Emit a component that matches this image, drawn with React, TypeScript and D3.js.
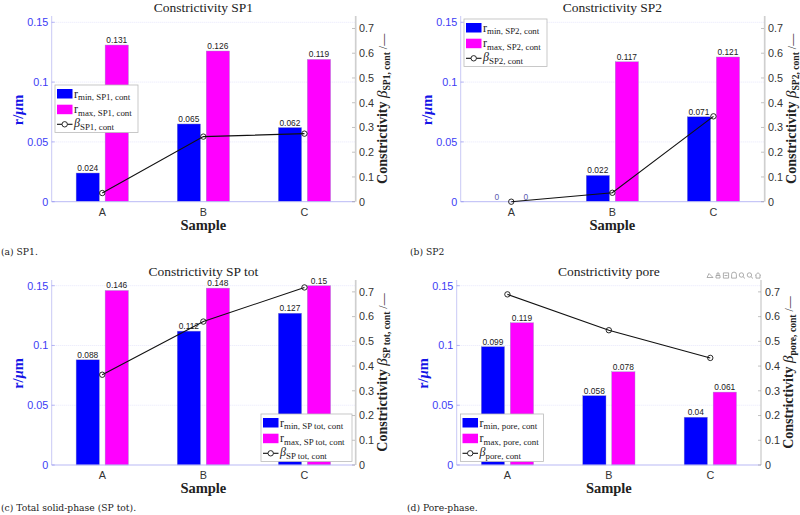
import React, { useEffect, useRef } from "react";
import * as d3 from "d3";

const samples = ["A", "B", "C"];
const rMinSP1 = [0.024, 0.065, 0.062];
const rMaxSP1 = [0.131, 0.126, 0.119];
const betaSP1 = [0.035, 0.263, 0.275];
const rMinSP2 = [0, 0.022, 0.071];
const rMaxSP2 = [0, 0.117, 0.121];
const betaSP2 = [0, 0.036, 0.345];
const rMinTot = [0.088, 0.112, 0.127];
const rMaxTot = [0.146, 0.148, 0.15];
const betaTot = [0.365, 0.58, 0.718];
const rMinPore = [0.099, 0.058, 0.04];
const rMaxPore = [0.119, 0.078, 0.061];
const betaPore = [0.69, 0.545, 0.433];
const leftTicks = [0, 0.05, 0.1, 0.15];
const rightTicks = [0, 0.1, 0.2, 0.3, 0.4, 0.5, 0.6, 0.7];

const SERIF = "'Liberation Serif', serif";
const SANS = "'Liberation Sans', Arial, sans-serif";
const BLUE = "#0000ff";
const MAGENTA = "#ff00ff";
const AXISBLUE = "#3b3bf5";

type Panel = {
  title: string; sub: string; caption: string; capX: number; capY: number;
  left: number; right: number; y0: number; y15: number; top: number; titleY: number;
  rMin: number[]; rMax: number[]; beta: number[];
  legX: number; legY: number; legW: number; rightLabelSub: string; heavy: boolean;
};

const panels: Panel[] = [
  { title: "Constrictivity SP1", sub: "SP1, cont", caption: "(a) SP1.", capX: 1, capY: 255,
    left: 51.7, right: 355, y0: 201.7, y15: 22.3, top: 16, titleY: 11.5,
    rMin: rMinSP1, rMax: rMaxSP1, beta: betaSP1, legX: 55, legY: 85, legW: 83, rightLabelSub: "SP1, cont", heavy: true },
  { title: "Constrictivity SP2", sub: "SP2, cont", caption: "(b) SP2", capX: 410, capY: 255,
    left: 460.7, right: 764, y0: 201.7, y15: 22.3, top: 16, titleY: 11.5,
    rMin: rMinSP2, rMax: rMaxSP2, beta: betaSP2, legX: 464, legY: 19, legW: 83, rightLabelSub: "SP2, cont", heavy: true },
  { title: "Constrictivity SP tot", sub: "SP tot, cont", caption: "(c) Total solid-phase (SP tot).", capX: 1, capY: 511,
    left: 51.7, right: 355, y0: 465, y15: 285.7, top: 280, titleY: 275.5,
    rMin: rMinTot, rMax: rMaxTot, beta: betaTot, legX: 261, legY: 414, legW: 91, rightLabelSub: "SP tot, cont", heavy: true },
  { title: "Constrictivity pore", sub: "pore, cont", caption: "(d) Pore-phase.", capX: 407, capY: 511,
    left: 456.7, right: 761, y0: 465, y15: 285.7, top: 280, titleY: 275.5,
    rMin: rMinPore, rMax: rMaxPore, beta: betaPore, legX: 460.5, legY: 414, legW: 83, rightLabelSub: "pore, cont", heavy: false },
];

function drawPanel(svg: d3.Selection<SVGSVGElement, unknown, null, undefined>, p: Panel) {
  const x = d3.scaleLinear().domain([0.5, 3.5]).range([p.left, p.right]);
  const yL = d3.scaleLinear().domain([0, 0.15]).range([p.y0, p.y15]);
  const yR = d3.scaleLinear().domain([0, 0.7]).range([p.y0, p.y0 - (p.y0 - p.y15) * 0.9655]);
  const barW = 23.3;
  const off = 14.5;
  const g = svg.append("g");

  leftTicks.slice(1).forEach((t) => {
    g.append("line").attr("x1", p.left).attr("x2", p.right).attr("y1", yL(t)).attr("y2", yL(t))
      .attr("stroke", "#e6e6fb").attr("stroke-width", 1).attr("stroke-dasharray", "1 1");
  });

  g.append("text").attr("x", (p.left + p.right) / 2).attr("y", p.titleY).attr("text-anchor", "middle")
    .attr("font-family", SERIF).attr("font-size", 13.5).attr("fill", "#222").text(p.title);

  const series: [number[], string, number][] = [[p.rMin, BLUE, -off], [p.rMax, MAGENTA, off]];
  series.forEach(([vals, col, dx]) => {
    vals.forEach((v, i) => {
      const cx = x(i + 1) + dx;
      if (v > 0) {
        g.append("rect").attr("x", cx - barW / 2).attr("width", barW).attr("y", yL(v)).attr("height", p.y0 - yL(v))
          .attr("fill", col).attr("stroke", "#9a9ac0").attr("stroke-width", 0.4);
      }
      g.append("text").attr("x", cx).attr("y", yL(v) - 2).attr("text-anchor", "middle")
        .attr("font-family", SANS).attr("font-size", 8.4).attr("fill", v === 0 ? "#5b5bb0" : "#222").text(String(v));
    });
  });

  const ax = g.append("g").attr("font-family", SANS);
  ax.append("line").attr("x1", p.left).attr("x2", p.left).attr("y1", p.top).attr("y2", p.y0).attr("stroke", "#c9c9f5").attr("stroke-width", 1);
  ax.append("line").attr("x1", p.left).attr("x2", p.right).attr("y1", p.y0).attr("y2", p.y0).attr("stroke", "#b9b9f5").attr("stroke-width", 1);
  leftTicks.forEach((t) => {
    ax.append("line").attr("x1", p.left).attr("x2", p.left + 3).attr("y1", yL(t)).attr("y2", yL(t)).attr("stroke", "#8a8af0").attr("stroke-width", 0.6);
    ax.append("text").attr("x", p.left - 3.5).attr("y", yL(t) + 3.8).attr("text-anchor", "end")
      .attr("font-size", 10.8).attr("fill", AXISBLUE).text(String(t));
  });

  ax.append("line").attr("x1", p.right + (p.heavy ? 0.7 : 0)).attr("x2", p.right + (p.heavy ? 0.7 : 0)).attr("y1", p.top).attr("y2", p.y0)
    .attr("stroke", p.heavy ? "#cfcfcf" : "#bdbdbd").attr("stroke-width", p.heavy ? 1.7 : 1);
  rightTicks.forEach((t) => {
    ax.append("line").attr("x1", p.right - 3).attr("x2", p.right).attr("y1", yR(t)).attr("y2", yR(t)).attr("stroke", "#999").attr("stroke-width", 0.6);
    ax.append("text").attr("x", p.right + 4).attr("y", yR(t) + 3.8)
      .attr("font-size", 10.8).attr("fill", "#333").text(String(t));
  });

  samples.forEach((s, i) => {
    ax.append("text").attr("x", x(i + 1)).attr("y", p.y0 + 14.3).attr("text-anchor", "middle")
      .attr("font-size", 10.8).attr("fill", "#333").text(s);
  });
  g.append("text").attr("x", x(2)).attr("y", p.y0 + 28).attr("text-anchor", "middle")
    .attr("font-family", SERIF).attr("font-weight", "bold").attr("font-size", 14.5).attr("fill", "#222").text("Sample");

  const cy = (p.y0 + p.top) / 2;
  const yl = g.append("text").attr("transform", `translate(${p.left - 28.4},${cy + 1}) rotate(-90)`).attr("text-anchor", "middle")
    .attr("font-family", SERIF).attr("font-weight", "bold").attr("font-size", 14.5).attr("fill", "#1414e6");
  yl.append("tspan").text("r/");
  yl.append("tspan").attr("font-style", "italic").text("μ");
  yl.append("tspan").text("m");

  const yr = g.append("text").attr("transform", `translate(${p.right + 32},${cy}) rotate(-90)`).attr("text-anchor", "middle")
    .attr("font-family", SERIF).attr("font-weight", "bold").attr("font-size", 14).attr("fill", "#222");
  yr.append("tspan").text("Constrictivity ");
  yr.append("tspan").attr("font-style", "italic").attr("font-size", 15).attr("font-weight", "normal").text("β");
  yr.append("tspan").attr("font-size", 9.6).attr("dy", 3).text(p.rightLabelSub);
  yr.append("tspan").attr("dy", -3).attr("font-size", 12).attr("font-weight", "normal").text(" /—");

  const line = d3.line<number>().x((_, i) => x(i + 1)).y((d) => yR(d));
  g.append("path").attr("d", line(p.beta)!).attr("fill", "none").attr("stroke", "#111").attr("stroke-width", 1.1);
  p.beta.forEach((b, i) => {
    g.append("circle").attr("cx", x(i + 1)).attr("cy", yR(b)).attr("r", 2.7).attr("fill", "none").attr("stroke", "#111").attr("stroke-width", 0.9);
  });

  const L = g.append("g");
  const legH = 47.5;
  L.append("rect").attr("x", p.legX).attr("y", p.legY).attr("width", p.legW).attr("height", legH)
    .attr("fill", "#fff").attr("stroke", "#bbb").attr("stroke-width", 0.8);
  const ent: [string, string][] = [["min", BLUE], ["max", MAGENTA]];
  ent.forEach(([nm, col], i) => {
    const yy = p.legY + 4 + i * 15.7;
    L.append("rect").attr("x", p.legX + 2).attr("y", yy).attr("width", 15.5).attr("height", 9.5).attr("fill", col);
    const t = L.append("text").attr("x", p.legX + 19).attr("y", yy + 8.5).attr("font-family", SERIF).attr("font-size", 12).attr("fill", "#222");
    t.append("tspan").text("r");
    t.append("tspan").attr("dy", 2.5).attr("font-size", 8.9).text(`${nm}, ${p.sub}`);
  });
  const ly = p.legY + 39.3;
  L.append("line").attr("x1", p.legX + 2).attr("x2", p.legX + 17.5).attr("y1", ly).attr("y2", ly).attr("stroke", "#111").attr("stroke-width", 1.1);
  L.append("circle").attr("cx", p.legX + 9.7).attr("cy", ly).attr("r", 2.7).attr("fill", "#fff").attr("stroke", "#111").attr("stroke-width", 0.9);
  const bt = L.append("text").attr("x", p.legX + 19).attr("y", ly + 3).attr("font-family", SERIF).attr("font-size", 12).attr("fill", "#222");
  bt.append("tspan").attr("font-style", "italic").text("β");
  bt.append("tspan").attr("dy", 2.5).attr("font-size", 8.9).text(p.sub);

  svg.append("text").attr("x", p.capX).attr("y", p.capY).attr("font-family", "'DejaVu Serif', serif").attr("font-size", 9.2)
    .attr("fill", "#222").text(p.caption);
}

const toolbarX = [710, 718, 726, 734, 742, 750, 758];
const toolbarIcons = [
  "M-3 2 L-1 -2 L1 0 L3 2 Z",
  "M-2 2.5 H2 V0 H-2 Z M-1 0 V-2.5 H1 V0",
  "M-2.6 -2.6 H2.6 V2.6 H-2.6 Z M-1.5 0 H1.5",
  "M-2.4 2.6 V-1 A2.4 2.4 0 0 1 2.4 -1 V2.6 Z",
  "M-2.8 -0.5 A2.2 2.2 0 1 1 1.6 -0.5 A2.2 2.2 0 1 1 -2.8 -0.5 M1 1.2 L3 3",
  "M-2.8 -0.5 A2.2 2.2 0 1 1 1.6 -0.5 A2.2 2.2 0 1 1 -2.8 -0.5 M1 1.2 L3 3",
  "M-3 0 L0 -2.8 L3 0 M-2 -0.5 V2.6 H2 V-0.5",
];

export default function App() {
  const ref = useRef<SVGSVGElement>(null);
  useEffect(() => {
    const svg = d3.select(ref.current!);
    svg.selectAll("*").remove();
    panels.forEach((p) => drawPanel(svg, p));
    const tb = svg.append("g").attr("fill", "none").attr("stroke", "#999").attr("stroke-width", 0.8);
    toolbarX.forEach((cx, i) => {
      tb.append("path").attr("transform", `translate(${cx},275.5)`).attr("d", toolbarIcons[i]);
    });
  }, []);
  return <svg ref={ref} width={800} height={515} style={{ position: "absolute", left: 0, top: 0, background: "#fff" }} />;
}
